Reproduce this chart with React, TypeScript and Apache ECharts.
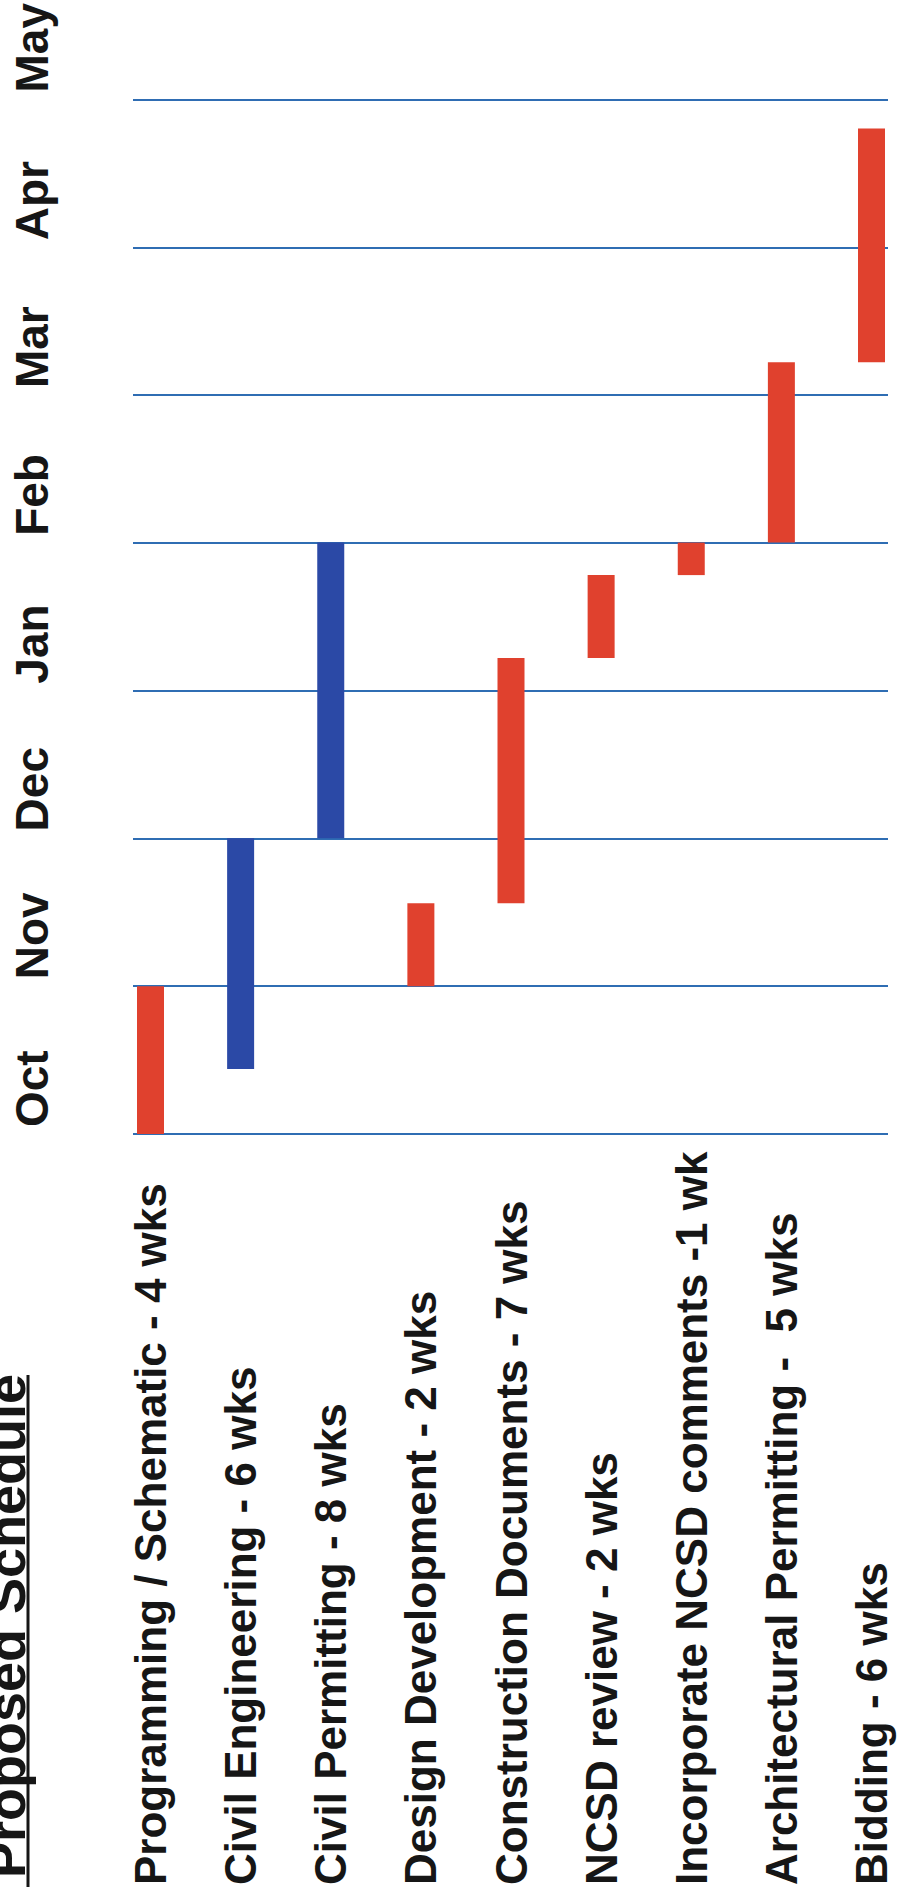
import React, { useEffect, useRef } from "react";
import * as echarts from "echarts";

// Month boundaries along the time axis (value i = start of month i)
const months = ["Oct", "Nov", "Dec", "Jan", "Feb", "Mar", "Apr", "May"];

// Tasks (left to right)
const tasks = [
  "Programming / Schematic - 4 wks",
  "Civil Engineering - 6 wks",
  "Civil Permitting - 8 wks",
  "Design Development - 2 wks",
  "Construction Documents - 7 wks",
  "NCSD review - 2 wks",
  "Incorporate NCSD comments -1 wk",
  "Architectural Permitting -  5 wks",
  "Bidding - 6 wks",
];

// Start / end of each task, in months after 1 Oct
const taskStart = [0, 0.44, 2, 1, 1.56, 3.22, 3.78, 4, 5.22];
const taskEnd = [1, 2, 4, 1.56, 3.22, 3.78, 4, 5.22, 6.8];

// Which tasks are civil (blue) vs building (red)
const taskGroup = ["bldg", "civil", "civil", "bldg", "bldg", "bldg", "bldg", "bldg", "bldg"];

const titleText = "Proposed Schedule";

const FONT = '"Liberation Sans", Arial, Helvetica, sans-serif';
const NARROW = '"Liberation Sans Narrow", "Arial Narrow", monospace';
const RED = "#e0412e";
const BLUE = "#2b49a6";
const LINE = "#2f6db3";
const INK = "#161616";

function hasNarrowFont(): boolean {
  try {
    const ctx = document.createElement("canvas").getContext("2d");
    if (!ctx) return false;
    ctx.font = `bold 100px ${NARROW}`;
    const a = ctx.measureText("Mayxyz Oct").width;
    ctx.font = "bold 100px monospace";
    const b = ctx.measureText("Mayxyz Oct").width;
    return Math.abs(a - b) > 0.5;
  } catch (e) {
    return false;
  }
}

export default function App() {
  const ref = useRef<HTMLDivElement>(null);

  useEffect(() => {
    document.body.style.margin = "0";
    if (!ref.current) return;
    const narrow = hasNarrowFont();
    const monthFont = narrow ? '"Liberation Sans Narrow", "Arial Narrow", sans-serif' : FONT;
    const monthSize = narrow ? 52 : 46;

    const chart = echarts.init(ref.current, null, { renderer: "svg" });

    const option: any = {
      animation: false,
      backgroundColor: "#ffffff",
      grid: [
        { left: 150.5, right: 27.5, top: 99, bottom: 760 },
        { left: 133, right: 11, top: 99, bottom: 760 },
      ],
      xAxis: [
        {
          type: "category",
          gridIndex: 0,
          data: tasks,
          boundaryGap: false,
          axisLine: { show: false },
          axisTick: { show: false },
          splitLine: { show: false },
          axisLabel: {
            interval: 0,
            rotate: 90,
            align: "left",
            verticalAlign: "middle",
            margin: 751,
            fontSize: 44,
            fontWeight: "bold",
            fontFamily: FONT,
            color: INK,
          },
        },
        { type: "value", gridIndex: 1, min: 0, max: 1, show: false },
      ],
      yAxis: [
        { type: "value", gridIndex: 0, min: 0, max: 7, interval: 1, show: false },
        {
          type: "value",
          gridIndex: 1,
          min: 0,
          max: 7,
          interval: 1,
          axisLine: { show: false },
          axisTick: { show: false },
          splitLine: { show: true, lineStyle: { color: LINE, width: 2 } },
          axisLabel: {
            formatter: (v: number) => months[Math.round(v)] ?? "",
            rotate: 90,
            align: "left",
            verticalAlign: "middle",
            margin: 101,
            padding: [0, 0, 0, 7],
            fontSize: monthSize,
            fontWeight: "bold",
            fontFamily: monthFont,
            color: INK,
            showMinLabel: true,
            showMaxLabel: true,
          },
        },
      ],
      series: [
        {
          type: "bar",
          xAxisIndex: 0,
          yAxisIndex: 0,
          stack: "gantt",
          barWidth: 27,
          clip: false,
          silent: true,
          itemStyle: { color: "rgba(0,0,0,0)" },
          data: taskStart,
        },
        {
          type: "bar",
          xAxisIndex: 0,
          yAxisIndex: 0,
          stack: "gantt",
          barWidth: 27,
          clip: false,
          data: taskEnd.map((e, i) => ({
            value: +(e - taskStart[i]).toFixed(3),
            itemStyle: { color: taskGroup[i] === "civil" ? BLUE : RED },
          })),
        },
      ],
      graphic: [
        {
          type: "text",
          x: 33,
          y: 1878,
          rotation: Math.PI / 2,
          style: {
            text: titleText,
            font: `bold 54px ${FONT}`,
            fill: INK,
            align: "left",
            verticalAlign: "bottom",
          },
        },
        {
          type: "line",
          shape: { x1: 28, y1: 1375, x2: 28, y2: 1887 },
          style: { stroke: INK, lineWidth: 3 },
        },
      ],
    };

    chart.setOption(option);
    return () => chart.dispose();
  }, []);

  return <div ref={ref} style={{ width: 899, height: 1894 }} />;
}
